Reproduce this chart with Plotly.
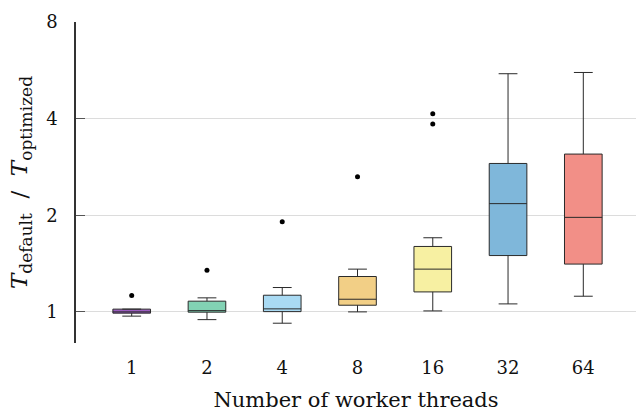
import plotly.graph_objects as go
import math

# Speedup distribution per worker-thread count
threads = ["1", "2", "4", "8", "16", "32", "64"]
lower_whisker = [0.970, 0.946, 0.922, 1.000, 1.007, 1.059, 1.119]
q1 = [0.991, 0.998, 1.002, 1.049, 1.154, 1.498, 1.409]
median = [1.000, 1.009, 1.022, 1.095, 1.359, 2.174, 1.970]
q3 = [1.020, 1.080, 1.127, 1.289, 1.599, 2.900, 3.102]
upper_whisker = [1.020, 1.106, 1.191, 1.359, 1.702, 5.520, 5.570]
box_colors = ["#9b5cc0", "#82d2b4", "#a9daf3", "#f2cf86", "#f7f0a2", "#7fb7da", "#f28f87"]

# Outlying runs
outlier_threads = ["1", "2", "4", "8", "16", "16"]
outlier_values = [1.124, 1.349, 1.910, 2.638, 4.140, 3.850]

y_ticks = [1, 2, 4, 8]

FONT = "DejaVu Serif"
SUB = "<sub><span style='font-size:17px'>{}</span></sub>"

fig = go.Figure()

for i, t in enumerate(threads):
    fig.add_trace(go.Box(
        x=[t],
        q1=[q1[i]],
        median=[median[i]],
        q3=[q3[i]],
        lowerfence=[lower_whisker[i]],
        upperfence=[upper_whisker[i]],
        fillcolor=box_colors[i],
        line=dict(color="#2a2a2a", width=1),
        width=0.5,
        whiskerwidth=0.5,
        boxpoints=False,
        showlegend=False,
        hoverinfo="skip",
    ))

fig.add_trace(go.Scatter(
    x=outlier_threads,
    y=outlier_values,
    mode="markers",
    marker=dict(color="black", size=5),
    showlegend=False,
    hoverinfo="skip",
))

fig.update_layout(
    width=636,
    height=412,
    margin=dict(l=76, r=0, t=22, b=69),
    paper_bgcolor="white",
    plot_bgcolor="white",
    font=dict(family=FONT, color="#111111", size=18),
    xaxis=dict(
        type="category",
        categoryorder="array",
        categoryarray=threads,
        range=[-0.74, 6.7],
        showgrid=False,
        showline=False,
        zeroline=False,
        ticks="",
        ticklabelstandoff=12,
        tickfont=dict(family=FONT, size=18),
        title=dict(text="Number of worker threads", font=dict(family=FONT, size=21), standoff=16),
    ),
    yaxis=dict(
        type="log",
        range=[math.log10(0.80), math.log10(8)],
        tickvals=y_ticks,
        ticktext=[str(v) for v in y_ticks],
        showgrid=True,
        gridcolor="#dcdcdc",
        gridwidth=1,
        showline=True,
        linecolor="#333333",
        linewidth=1.6,
        ticks="inside",
        ticklen=9,
        tickwidth=1,
        tickcolor="#555555",
        ticklabelstandoff=13,
        zeroline=False,
        tickfont=dict(family=FONT, size=18),
        title=dict(
            text="<i>T</i>" + SUB.format("default") + "&nbsp; / &nbsp;<i>T</i>" + SUB.format("optimized"),
            font=dict(family=FONT, size=23),
            standoff=12,
        ),
    ),
)

fig.write_html("out.html")
